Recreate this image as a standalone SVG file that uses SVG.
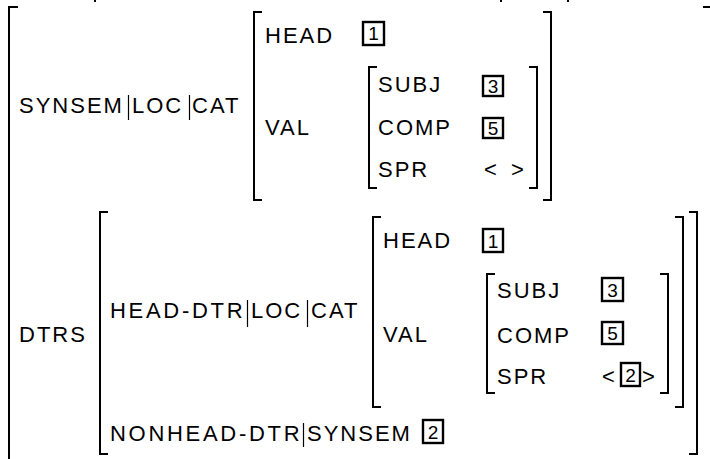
<svg xmlns="http://www.w3.org/2000/svg" width="710" height="459" viewBox="0 0 710 459">
<style>
text{font-family:"Liberation Sans",Arial,sans-serif;font-size:22px;letter-spacing:2px;fill:#000}
text.w{letter-spacing:2.7px}
.br{fill:none;stroke:#000;stroke-width:2}
.sep{stroke:#000;stroke-width:1.2}
.box{fill:#fff;stroke:#000;stroke-width:2.4}
text.d{font-size:19px;letter-spacing:0;text-anchor:middle}
</style>
<rect width="710" height="459" fill="#fff"/>
<g id="top-marks" fill="#000">
<rect x="94" y="0" width="2" height="2"/>
<rect x="500" y="0" width="2" height="2"/>
<rect x="567" y="0" width="2" height="2"/>
</g>
<g id="outer">
<path class="br" d="M18,7 H9 V470"/>
<path class="br" d="M703,7 H712 V470"/>
</g>
<g id="synsem">
<text x="19" y="113">SYNSEM</text>
<line class="sep" x1="128.5" y1="95" x2="128.5" y2="120"/>
<text x="132" y="113">LOC</text>
<line class="sep" x1="189.5" y1="95" x2="189.5" y2="120"/>
<text x="192" y="113">CAT</text>
</g>
<g id="cat1">
<path class="br" d="M262,12 H254 V200 H262"/>
<path class="br" d="M543,12 H551 V200 H543"/>
<text x="265" y="43">HEAD</text>
<rect class="box" x="363" y="22" width="21" height="23"/>
<text class="d" x="373.5" y="40">1</text>
<text x="265" y="135">VAL</text>
</g>
<g id="val1">
<path class="br" d="M377,67 H369 V188 H377"/>
<path class="br" d="M529,67 H537 V188 H529"/>
<text x="378" y="92">SUBJ</text>
<rect class="box" x="483" y="76" width="20" height="20"/>
<text class="d" x="493" y="92.5">3</text>
<text x="378" y="135">COMP</text>
<rect class="box" x="483" y="118" width="20" height="20"/>
<text class="d" x="493" y="134.5">5</text>
<text x="378" y="177">SPR</text>
<text x="484" y="177">&lt;</text>
<text x="511" y="177">&gt;</text>
</g>
<g id="dtrs">
<text x="19" y="342">DTRS</text>
<path class="br" d="M108,212 H100 V454 H108"/>
<path class="br" d="M689,212 H697 V454 H689"/>
<text class="w" x="110" y="318">HEAD-DTR</text>
<line class="sep" x1="247.5" y1="300" x2="247.5" y2="327"/>
<text x="251" y="318">LOC</text>
<line class="sep" x1="307.5" y1="300" x2="307.5" y2="327"/>
<text x="311" y="318">CAT</text>
<text class="w" x="110" y="441">NONHEAD-DTR</text>
<line class="sep" x1="303.5" y1="423" x2="303.5" y2="447"/>
<text x="307" y="441">SYNSEM</text>
<rect class="box" x="423" y="420" width="20" height="23"/>
<text class="d" x="433" y="438.5">2</text>
</g>
<g id="cat2">
<path class="br" d="M381,217 H373 V407 H381"/>
<path class="br" d="M675,217 H683 V407 H675"/>
<text x="383" y="248">HEAD</text>
<rect class="box" x="483" y="229" width="20" height="23"/>
<text class="d" x="493" y="247.5">1</text>
<text x="383" y="342">VAL</text>
</g>
<g id="val2">
<path class="br" d="M495,274 H487 V393 H495"/>
<path class="br" d="M660,274 H668 V393 H660"/>
<text x="497" y="298">SUBJ</text>
<rect class="box" x="602" y="278" width="21" height="23"/>
<text class="d" x="612.5" y="296.5">3</text>
<text x="497" y="343">COMP</text>
<rect class="box" x="602" y="322" width="21" height="22"/>
<text class="d" x="612.5" y="340">5</text>
<text x="497" y="384">SPR</text>
<text x="602" y="384">&lt;</text>
<rect class="box" x="621" y="363" width="19" height="23"/>
<text class="d" x="630.5" y="381.5">2</text>
<text x="642" y="384">&gt;</text>
</g>
</svg>
